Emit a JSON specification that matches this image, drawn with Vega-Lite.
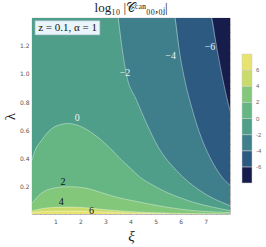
{
  "$schema": "https://vega.github.io/schema/vega-lite/v6.json",
  "width": 198,
  "height": 196,
  "autosize": "none",
  "padding": {"left": 32, "top": 18, "right": 36, "bottom": 33},
  "background": "white",
  "config": {
    "view": {"stroke": "#999999", "strokeWidth": 0.8},
    "axis": {"grid": false, "domain": false, "labelFont": "DejaVu Sans", "labelFontSize": 6, "labelColor": "#555555", "tickColor": "#888888", "tickSize": -3, "titleFont": "Liberation Serif", "titleFontWeight": "normal", "titleColor": "#222222"}
  },
  "title": {"text": "log₁₀ |𝒞ᶜᵃⁿ₀₀,₀ⱼ|", "font": "Liberation Serif", "fontSize": 13, "fontWeight": "normal", "color": "#222222", "anchor": "middle", "offset": 3},
  "resolve": {"axis": {"x": "independent", "y": "independent"}},
  "data": {"values": [
    {"b": -7, "x": 0.07, "y": 1.396, "e": 1}, {"b": -7, "x": 7.97, "y": 1.396, "e": 1},
    {"b": -5, "x": 0.07, "y": 1.396, "e": 1}, {"b": -5, "x": 7.24, "y": 1.396, "e": 0}, {"b": -5, "x": 7.44, "y": 1.189, "e": 0}, {"b": -5, "x": 7.64, "y": 0.999, "e": 0}, {"b": -5, "x": 7.84, "y": 0.834, "e": 0}, {"b": -5, "x": 7.97, "y": 0.739, "e": 0},
    {"b": -3, "x": 0.07, "y": 1.396, "e": 1}, {"b": -3, "x": 5.78, "y": 1.396, "e": 0}, {"b": -3, "x": 5.98, "y": 1.129, "e": 0}, {"b": -3, "x": 6.17, "y": 0.952, "e": 0}, {"b": -3, "x": 6.44, "y": 0.763, "e": 0}, {"b": -3, "x": 6.77, "y": 0.574, "e": 0}, {"b": -3, "x": 7.17, "y": 0.408, "e": 0}, {"b": -3, "x": 7.64, "y": 0.27, "e": 0}, {"b": -3, "x": 7.97, "y": 0.21, "e": 0},
    {"b": -1, "x": 0.07, "y": 1.396, "e": 1}, {"b": -1, "x": 3.51, "y": 1.396, "e": 0}, {"b": -1, "x": 3.65, "y": 1.2, "e": 0}, {"b": -1, "x": 3.82, "y": 1.011, "e": 0}, {"b": -1, "x": 4.25, "y": 0.81, "e": 0}, {"b": -1, "x": 4.65, "y": 0.645, "e": 0}, {"b": -1, "x": 5.11, "y": 0.48, "e": 0}, {"b": -1, "x": 5.84, "y": 0.313, "e": 0}, {"b": -1, "x": 6.77, "y": 0.172, "e": 0}, {"b": -1, "x": 7.97, "y": 0.065, "e": 0},
    {"b": 1, "x": 0.07, "y": 0.39, "e": 0}, {"b": 1, "x": 0.2, "y": 0.46, "e": 0}, {"b": 1, "x": 0.44, "y": 0.526, "e": 0}, {"b": 1, "x": 0.84, "y": 0.609, "e": 0}, {"b": 1, "x": 1.2, "y": 0.64, "e": 0}, {"b": 1, "x": 1.5, "y": 0.648, "e": 0}, {"b": 1, "x": 1.9, "y": 0.635, "e": 0}, {"b": 1, "x": 2.3, "y": 0.6, "e": 0}, {"b": 1, "x": 2.78, "y": 0.538, "e": 0}, {"b": 1, "x": 3.2, "y": 0.47, "e": 0}, {"b": 1, "x": 3.58, "y": 0.4, "e": 0}, {"b": 1, "x": 4.0, "y": 0.33, "e": 0}, {"b": 1, "x": 4.38, "y": 0.267, "e": 0}, {"b": 1, "x": 4.9, "y": 0.21, "e": 0}, {"b": 1, "x": 5.44, "y": 0.16, "e": 0}, {"b": 1, "x": 6.0, "y": 0.12, "e": 0}, {"b": 1, "x": 6.51, "y": 0.089, "e": 0}, {"b": 1, "x": 7.2, "y": 0.058, "e": 0}, {"b": 1, "x": 7.97, "y": 0.03, "e": 0},
    {"b": 3, "x": 0.07, "y": 0.082, "e": 0}, {"b": 3, "x": 0.44, "y": 0.153, "e": 0}, {"b": 3, "x": 0.98, "y": 0.191, "e": 0}, {"b": 3, "x": 1.57, "y": 0.2, "e": 0}, {"b": 3, "x": 2.2, "y": 0.19, "e": 0}, {"b": 3, "x": 2.8, "y": 0.16, "e": 0}, {"b": 3, "x": 3.4, "y": 0.127, "e": 0}, {"b": 3, "x": 4.1, "y": 0.1, "e": 0}, {"b": 3, "x": 4.8, "y": 0.075, "e": 0}, {"b": 3, "x": 5.45, "y": 0.054, "e": 0}, {"b": 3, "x": 6.1, "y": 0.038, "e": 0}, {"b": 3, "x": 6.8, "y": 0.026, "e": 0}, {"b": 3, "x": 7.97, "y": 0.016, "e": 0},
    {"b": 5, "x": 0.07, "y": 0.027, "e": 0}, {"b": 5, "x": 0.4, "y": 0.042, "e": 0}, {"b": 5, "x": 0.9, "y": 0.052, "e": 0}, {"b": 5, "x": 1.5, "y": 0.055, "e": 0}, {"b": 5, "x": 2.2, "y": 0.05, "e": 0}, {"b": 5, "x": 2.9, "y": 0.038, "e": 0}, {"b": 5, "x": 3.6, "y": 0.028, "e": 0}, {"b": 5, "x": 4.4, "y": 0.019, "e": 0}, {"b": 5, "x": 5.3, "y": 0.013, "e": 0}, {"b": 5, "x": 6.3, "y": 0.009, "e": 0}, {"b": 5, "x": 7.97, "y": 0.006, "e": 0},
    {"b": 7, "x": 0.07, "y": 0.016, "e": 0}, {"b": 7, "x": 0.4, "y": 0.022, "e": 0}, {"b": 7, "x": 0.9, "y": 0.026, "e": 0}, {"b": 7, "x": 1.5, "y": 0.027, "e": 0}, {"b": 7, "x": 2.2, "y": 0.025, "e": 0}, {"b": 7, "x": 3.0, "y": 0.019, "e": 0}, {"b": 7, "x": 3.8, "y": 0.013, "e": 0}, {"b": 7, "x": 4.6, "y": 0.009, "e": 0}, {"b": 7, "x": 5.5, "y": 0.006, "e": 0}
  ]},
  "encoding": {
    "x": {"field": "x", "type": "quantitative", "scale": {"domain": [0.07, 7.97], "nice": false, "zero": false}, "axis": null},
    "y": {"field": "y", "type": "quantitative", "stack": null, "scale": {"domain": [0.006, 1.396], "nice": false, "zero": false}, "axis": null},
    "color": {"field": "b", "type": "quantitative", "scale": {"type": "threshold", "domain": [-6, -4, -2, 0, 2, 4, 6], "range": ["#161c4c", "#2d5a81", "#3e7f8b", "#4f9e89", "#66b683", "#82c77a", "#c9dc6b", "#e8e26e"]},
      "legend": {"type": "gradient", "orient": "none", "legendX": 210, "legendY": 36, "direction": "vertical", "gradientLength": 129, "gradientThickness": 10, "title": null, "labelFontSize": 6, "labelColor": "#666666", "labelOffset": 4, "gradientStrokeColor": "#cccccc", "gradientStrokeWidth": 0.5}}
  },
  "layer": [
    {"transform": [{"filter": "datum.b === -7"}], "mark": {"type": "area", "interpolate": "monotone", "clip": true},
     "encoding": {"y2": {"datum": 0},
       "x": {"field": "x", "type": "quantitative", "scale": {"domain": [0.07, 7.97], "nice": false, "zero": false}, "axis": {"orient": "bottom", "values": [1, 2, 3, 4, 5, 6, 7], "title": "ξ", "titleFontSize": 15, "titleFontStyle": "italic", "labelPadding": 7, "titlePadding": 4}},
       "y": {"field": "y", "type": "quantitative", "stack": null, "scale": {"domain": [0.006, 1.396], "nice": false, "zero": false}, "axis": {"orient": "left", "values": [0.2, 0.4, 0.6, 0.8, 1.0, 1.2], "format": ".1f", "title": "λ", "titleFontSize": 15, "labelPadding": 6, "titlePadding": 2}}}},
    {"transform": [{"filter": "datum.b === -5"}], "mark": {"type": "area", "interpolate": "monotone", "clip": true},
     "encoding": {"y2": {"datum": 0},
       "x": {"field": "x", "type": "quantitative", "scale": {"domain": [0.07, 7.97], "nice": false, "zero": false}, "axis": {"orient": "bottom", "values": [0.2, 0.4, 0.6, 0.8, 1.2, 1.4, 1.6, 1.8, 2.2, 2.4, 2.6, 2.8, 3.2, 3.4, 3.6, 3.8, 4.2, 4.4, 4.6, 4.8, 5.2, 5.4, 5.6, 5.8, 6.2, 6.4, 6.6, 6.8, 7.2, 7.4, 7.6, 7.8], "labels": false, "title": null, "tickSize": -1.5}},
       "y": {"field": "y", "type": "quantitative", "stack": null, "scale": {"domain": [0.006, 1.396], "nice": false, "zero": false}, "axis": {"orient": "left", "values": [0.05, 0.1, 0.15, 0.25, 0.3, 0.35, 0.45, 0.5, 0.55, 0.65, 0.7, 0.75, 0.85, 0.9, 0.95, 1.05, 1.1, 1.15, 1.25, 1.3, 1.35], "labels": false, "title": null, "tickSize": -1.5}}}},
    {"transform": [{"filter": "datum.b === -3"}], "mark": {"type": "area", "interpolate": "monotone", "clip": true},
     "encoding": {"y2": {"datum": 0},
       "x": {"field": "x", "type": "quantitative", "scale": {"domain": [0.07, 7.97], "nice": false, "zero": false}, "axis": {"orient": "top", "values": [1, 2, 3, 4, 5, 6, 7], "labels": false, "title": null}},
       "y": {"field": "y", "type": "quantitative", "stack": null, "scale": {"domain": [0.006, 1.396], "nice": false, "zero": false}, "axis": {"orient": "right", "values": [0.2, 0.4, 0.6, 0.8, 1.0, 1.2], "labels": false, "title": null}}}},
    {"transform": [{"filter": "datum.b === -1"}], "mark": {"type": "area", "interpolate": "monotone", "clip": true},
     "encoding": {"y2": {"datum": 0},
       "x": {"field": "x", "type": "quantitative", "scale": {"domain": [0.07, 7.97], "nice": false, "zero": false}, "axis": {"orient": "top", "values": [0.2, 0.4, 0.6, 0.8, 1.2, 1.4, 1.6, 1.8, 2.2, 2.4, 2.6, 2.8, 3.2, 3.4, 3.6, 3.8, 4.2, 4.4, 4.6, 4.8, 5.2, 5.4, 5.6, 5.8, 6.2, 6.4, 6.6, 6.8, 7.2, 7.4, 7.6, 7.8], "labels": false, "title": null, "tickSize": -1.5}},
       "y": {"field": "y", "type": "quantitative", "stack": null, "scale": {"domain": [0.006, 1.396], "nice": false, "zero": false}, "axis": {"orient": "right", "values": [0.05, 0.1, 0.15, 0.25, 0.3, 0.35, 0.45, 0.5, 0.55, 0.65, 0.7, 0.75, 0.85, 0.9, 0.95, 1.05, 1.1, 1.15, 1.25, 1.3, 1.35], "labels": false, "title": null, "tickSize": -1.5}}}},
    {"transform": [{"filter": "datum.b === 1"}], "mark": {"type": "area", "interpolate": "monotone", "clip": true}, "encoding": {"y2": {"datum": 0}}},
    {"transform": [{"filter": "datum.b === 3"}], "mark": {"type": "area", "interpolate": "monotone", "clip": true}, "encoding": {"y2": {"datum": 0}}},
    {"transform": [{"filter": "datum.b === 5"}], "mark": {"type": "area", "interpolate": "monotone", "clip": true}, "encoding": {"y2": {"datum": 0}}},
    {"transform": [{"filter": "datum.b === 7"}], "mark": {"type": "area", "interpolate": "monotone", "clip": true}, "encoding": {"y2": {"datum": 0}}},
    {"transform": [{"filter": "datum.e === 0"}], "mark": {"type": "line", "interpolate": "monotone", "clip": true, "strokeWidth": 0.7, "opacity": 0.55}, "encoding": {"detail": {"field": "b"}, "color": {"value": "#ffffff"}}},
    {"data": {"values": [{"x": 0.19, "x2": 2.78, "y": 1.377, "y2": 1.276}]}, "mark": {"type": "rect", "stroke": "#9ab8c6", "strokeWidth": 0.7}, "encoding": {"x2": {"field": "x2"}, "y2": {"field": "y2"}, "color": {"value": "#eaf5fb"}}},
    {"data": {"values": [
      {"t": "−6", "x": 7.17, "y": 1.189, "k": 0}, {"t": "−4", "x": 5.6, "y": 1.129, "k": 0}, {"t": "−2", "x": 3.78, "y": 1.004, "k": 0}, {"t": "0", "x": 1.88, "y": 0.687, "k": 0},
      {"t": "2", "x": 1.31, "y": 0.235, "k": 1}, {"t": "4", "x": 1.24, "y": 0.089, "k": 1}, {"t": "6", "x": 2.44, "y": 0.03, "k": 1},
      {"t": "z = 0.1, α = 1", "x": 1.49, "y": 1.326, "k": 2}]},
     "layer": [
      {"transform": [{"filter": "datum.k === 0"}], "mark": {"type": "text", "font": "Liberation Serif", "fontSize": 10}, "encoding": {"text": {"field": "t"}, "color": {"value": "#eef4f2"}}},
      {"transform": [{"filter": "datum.k === 1"}], "mark": {"type": "text", "font": "Liberation Serif", "fontSize": 10}, "encoding": {"text": {"field": "t"}, "color": {"value": "#111111"}}},
      {"transform": [{"filter": "datum.k === 2"}], "mark": {"type": "text", "font": "Liberation Serif", "fontSize": 11}, "encoding": {"text": {"field": "t"}, "color": {"value": "#111111"}}}
     ]}
  ]
}
